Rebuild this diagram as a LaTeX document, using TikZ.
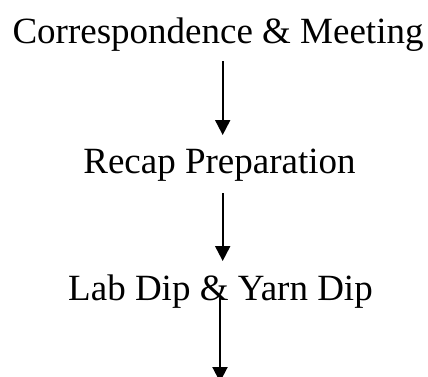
\documentclass[tikz,border=0pt]{standalone}
\usepackage{fontspec}
\setmainfont{Liberation Serif}
\usetikzlibrary{arrows.meta}
\begin{document}
\begin{tikzpicture}[x=1pt,y=-1pt,
  label/.style={inner sep=0pt,anchor=base,font=\fontsize{37}{44}\selectfont},
  flowarrow/.style={line width=2pt,-{Triangle[length=15pt,width=15pt]}}]
\useasboundingbox (0,0) rectangle (428,376);
\clip (0,0) rectangle (428,376);
\node[label] (t1) at (218,43) {Correspondence \& Meeting};
\node[label] (t2) at (219.5,173) {Recap Preparation};
\node[label] (t3) at (220.5,300) {Lab Dip \& Yarn Dip};
\coordinate (end) at (220,382);
\draw[flowarrow] ([xshift=4.7pt,yshift=-18pt]t1.base) -- ([xshift=3.2pt,yshift=38pt]t2.base);
\draw[flowarrow] ([xshift=3.2pt,yshift=-20pt]t2.base) -- ([xshift=2.2pt,yshift=39pt]t3.base);
\draw[flowarrow] ([xshift=-0.5pt,yshift=2pt]t3.base) -- (end);
\end{tikzpicture}
\end{document}
